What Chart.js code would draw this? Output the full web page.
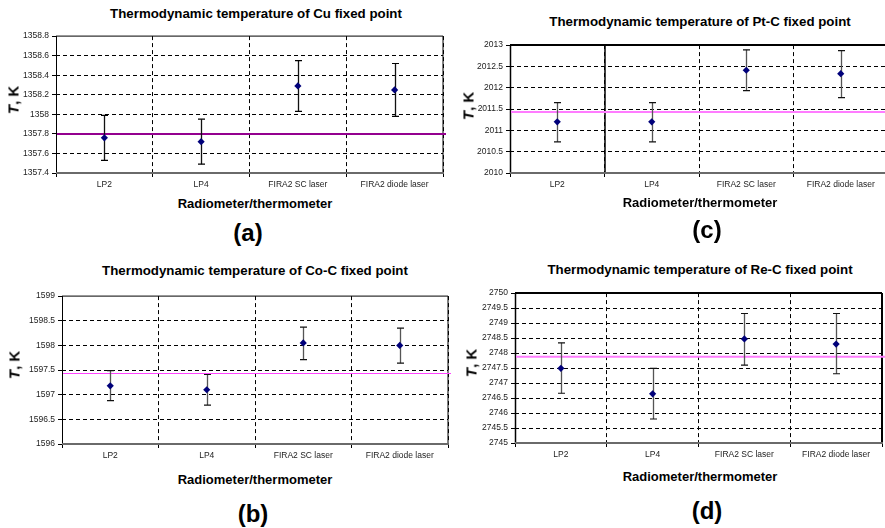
<!DOCTYPE html>
<html>
<head>
<meta charset="utf-8">
<script src="https://cdn.jsdelivr.net/npm/chart.js@4.4.1/dist/chart.umd.min.js"></script>
<style>
html,body{margin:0;padding:0;background:#fff;}
body{width:885px;height:528px;overflow:hidden;position:relative;font-family:"Liberation Sans",Arial,sans-serif;}
.wrap{position:absolute;}
.txt{position:absolute;transform:translate(-50%,-50%);white-space:nowrap;font-weight:bold;color:#000;line-height:1;}
.title{font-size:13.3px;}
.xtitle{font-size:13px;}
.ytitle{font-size:15px;transform:translate(-50%,-50%) rotate(-90deg);}
.tag{font-size:24px;}
</style>
</head>
<body>
<script>
// ---- data ----
const categories = ['LP2', 'LP4', 'FIRA2 SC laser', 'FIRA2 diode laser'];

const cuValues = [1357.76, 1357.72, 1358.29, 1358.25];
const cuLow    = [1357.53, 1357.49, 1358.03, 1357.98];
const cuHigh   = [1357.99, 1357.95, 1358.55, 1358.52];
const cuRef    = 1357.80;
const cuTicks  = [1357.4, 1358.8, 0.2];

const coValues = [1597.18, 1597.10, 1598.05, 1598.00];
const coLow    = [1596.88, 1596.79, 1597.71, 1597.64];
const coHigh   = [1597.49, 1597.41, 1598.37, 1598.35];
const coRef    = 1597.43;
const coTicks  = [1596, 1599, 0.5];

const ptValues = [2011.20, 2011.20, 2012.41, 2012.33];
const ptLow    = [2010.73, 2010.73, 2011.93, 2011.77];
const ptHigh   = [2011.65, 2011.65, 2012.89, 2012.87];
const ptRef    = 2011.43;
const ptTicks  = [2010, 2013, 0.5];

const reValues = [2747.49, 2746.64, 2748.47, 2748.30];
const reLow    = [2746.66, 2745.80, 2747.60, 2747.31];
const reHigh   = [2748.34, 2747.49, 2749.32, 2749.32];
const reRef    = 2747.88;
const reTicks  = [2745, 2750, 0.5];

// ---- plugin: frame, reference line, error bars ----
const panelPlugin = {
  id: 'panel',
  beforeDatasetsDraw(chart, args, o) {
    const ctx = chart.ctx, a = chart.chartArea;
    const xs = chart.scales.x, ys = chart.scales.y;
    ctx.save();
    ctx.setLineDash([]);
    ctx.strokeStyle = '#000';
    ctx.lineWidth = o.frameWidth;
    ctx.beginPath();
    ctx.moveTo(a.left, a.top); ctx.lineTo(a.right, a.top);
    ctx.moveTo(a.right, a.top); ctx.lineTo(a.right, a.bottom);
    ctx.stroke();
    ctx.lineWidth = o.leftWidth;
    ctx.beginPath();
    ctx.moveTo(a.left + 0.5, a.top); ctx.lineTo(a.left + 0.5, a.bottom + 1);
    ctx.stroke();
    if (o.divider) {
      const dx = Math.round((xs.getPixelForValue(0) + xs.getPixelForValue(1)) / 2);
      ctx.lineWidth = 1.5;
      ctx.beginPath();
      ctx.moveTo(dx, a.top); ctx.lineTo(dx, a.bottom);
      ctx.stroke();
    }
    ctx.strokeStyle = '#6a6a6a';
    ctx.lineWidth = 2;
    ctx.beginPath();
    ctx.moveTo(a.left, a.bottom); ctx.lineTo(a.right + 1, a.bottom);
    ctx.stroke();
    const ry = ys.getPixelForValue(o.ref);
    ctx.strokeStyle = o.refColor;
    ctx.lineWidth = o.refWidth;
    ctx.beginPath();
    ctx.moveTo(a.left + 1, ry); ctx.lineTo(a.right + 3, ry);
    ctx.stroke();
    for (let i = 0; i < o.low.length; i++) {
      const x = Math.round(xs.getPixelForValue(i)) + 0.5;
      const yl = ys.getPixelForValue(o.low[i]);
      const yh = ys.getPixelForValue(o.high[i]);
      ctx.strokeStyle = o.barColor;
      ctx.lineWidth = 1.3;
      ctx.beginPath();
      ctx.moveTo(x, yl); ctx.lineTo(x, yh);
      ctx.stroke();
      ctx.strokeStyle = o.capColor;
      ctx.lineWidth = 1.2;
      ctx.beginPath();
      ctx.moveTo(x - 3.5, yl); ctx.lineTo(x + 3.5, yl);
      ctx.moveTo(x - 3.5, yh); ctx.lineTo(x + 3.5, yh);
      ctx.stroke();
    }
    ctx.restore();
  }
};

const tickFont = {family: '"Liberation Sans", Arial, sans-serif', size: 8.5};

function addText(cls, html, x, y) {
  const d = document.createElement('div');
  d.className = 'txt ' + cls;
  d.innerHTML = html;
  d.style.left = x + 'px';
  d.style.top = y + 'px';
  document.body.appendChild(d);
}

function makePanel(p) {
  const padT = 8, xH = 22, padR = 6;
  const w = p.yW + (p.R - p.L) + padR;
  const h = padT + (p.B - p.T) + xH;
  const wrap = document.createElement('div');
  wrap.className = 'wrap';
  wrap.style.left = (p.L - p.yW) + 'px';
  wrap.style.top = (p.T - padT) + 'px';
  wrap.style.width = w + 'px';
  wrap.style.height = h + 'px';
  const cv = document.createElement('canvas');
  cv.width = w; cv.height = h;
  cv.style.width = w + 'px'; cv.style.height = h + 'px';
  wrap.appendChild(cv);
  document.body.appendChild(wrap);

  new Chart(cv, {
    type: 'line',
    data: {
      labels: categories,
      datasets: [{
        data: p.values,
        showLine: false,
        pointStyle: 'rectRot',
        pointRadius: 3.6,
        pointBorderWidth: 0,
        backgroundColor: '#00007a',
        borderColor: '#00007a'
      }]
    },
    options: {
      responsive: false,
      animation: false,
      devicePixelRatio: 1,
      layout: {padding: {left: 0, top: padT, right: padR, bottom: 0}},
      events: [],
      plugins: {
        legend: {display: false},
        tooltip: {enabled: false},
        panel: {
          ref: p.ref, refColor: p.refColor, refWidth: p.refWidth,
          low: p.low, high: p.high,
          barColor: p.barColor, capColor: p.capColor,
          frameWidth: p.frameWidth, leftWidth: p.leftWidth, divider: p.divider
        }
      },
      scales: {
        x: {
          type: 'category',
          offset: true,
          grid: {offset: true, color: '#000', lineWidth: 1, tickLength: 4, tickColor: '#000'},
          border: {display: false, dash: [4, 3]},
          ticks: {font: tickFont, color: '#222', padding: 3, maxRotation: 0, autoSkip: false},
          afterFit: s => { s.height = xH; }
        },
        y: {
          min: p.ticks[0], max: p.ticks[1],
          grid: {
            color: c => (c.tick && (Math.abs(c.tick.value - p.ticks[0]) < 1e-6 || Math.abs(c.tick.value - p.ticks[1]) < 1e-6)) ? 'rgba(0,0,0,0)' : '#000',
            tickColor: '#000',
            lineWidth: 1, tickLength: 4
          },
          border: {display: false, dash: [4, 3]},
          ticks: {
            stepSize: p.ticks[2],
            font: tickFont, color: '#222', padding: 3,
            callback: v => String(Number(Number(v).toFixed(1)))
          },
          afterFit: s => { s.width = p.yW; }
        }
      }
    },
    plugins: [panelPlugin]
  });

  addText('title', p.title, p.titleX, p.titleY);
  addText('xtitle', 'Radiometer/thermometer', p.xtX, p.xtY);
  addText('ytitle', '<i>T</i>, K', p.ytX, p.ytY);
  addText('tag', p.tag, p.tagX, p.tagY);
}

makePanel({
  L: 56, R: 443, T: 36, B: 173, yW: 40,
  values: cuValues, low: cuLow, high: cuHigh, ref: cuRef, ticks: cuTicks,
  refColor: '#94008f', refWidth: 2, barColor: '#111', capColor: '#000',
  frameWidth: 1, leftWidth: 1, divider: false,
  title: 'Thermodynamic temperature of Cu fixed point', titleX: 256, titleY: 14,
  xtX: 255, xtY: 203, ytX: 13, ytY: 100, tag: '(a)', tagX: 248, tagY: 233
});
makePanel({
  L: 62, R: 448, T: 296, B: 444, yW: 40,
  values: coValues, low: coLow, high: coHigh, ref: coRef, ticks: coTicks,
  refColor: '#ff44ff', refWidth: 1.2, barColor: '#555', capColor: '#111',
  frameWidth: 1, leftWidth: 1, divider: false,
  title: 'Thermodynamic temperature of Co-C fixed point', titleX: 255, titleY: 271,
  xtX: 255, xtY: 479, ytX: 14, ytY: 365, tag: '(b)', tagX: 253, tagY: 514
});
makePanel({
  L: 510, R: 888, T: 45, B: 173, yW: 44,
  values: ptValues, low: ptLow, high: ptHigh, ref: ptRef, ticks: ptTicks,
  refColor: '#ff7cff', refWidth: 2, barColor: '#555', capColor: '#111',
  frameWidth: 2, leftWidth: 1.5, divider: true,
  title: 'Thermodynamic temperature of Pt-C fixed point', titleX: 700, titleY: 22,
  xtX: 700, xtY: 202, ytX: 468, ytY: 106, tag: '(c)', tagX: 707, tagY: 230
});
makePanel({
  L: 515, R: 882, T: 293, B: 443, yW: 44,
  values: reValues, low: reLow, high: reHigh, ref: reRef, ticks: reTicks,
  refColor: '#ff7cff', refWidth: 2, barColor: '#555', capColor: '#111',
  frameWidth: 2, leftWidth: 1.5, divider: false,
  title: 'Thermodynamic temperature of Re-C fixed point', titleX: 700, titleY: 270,
  xtX: 700, xtY: 476, ytX: 471, ytY: 363, tag: '(d)', tagX: 707, tagY: 511
});
</script>
</body>
</html>
